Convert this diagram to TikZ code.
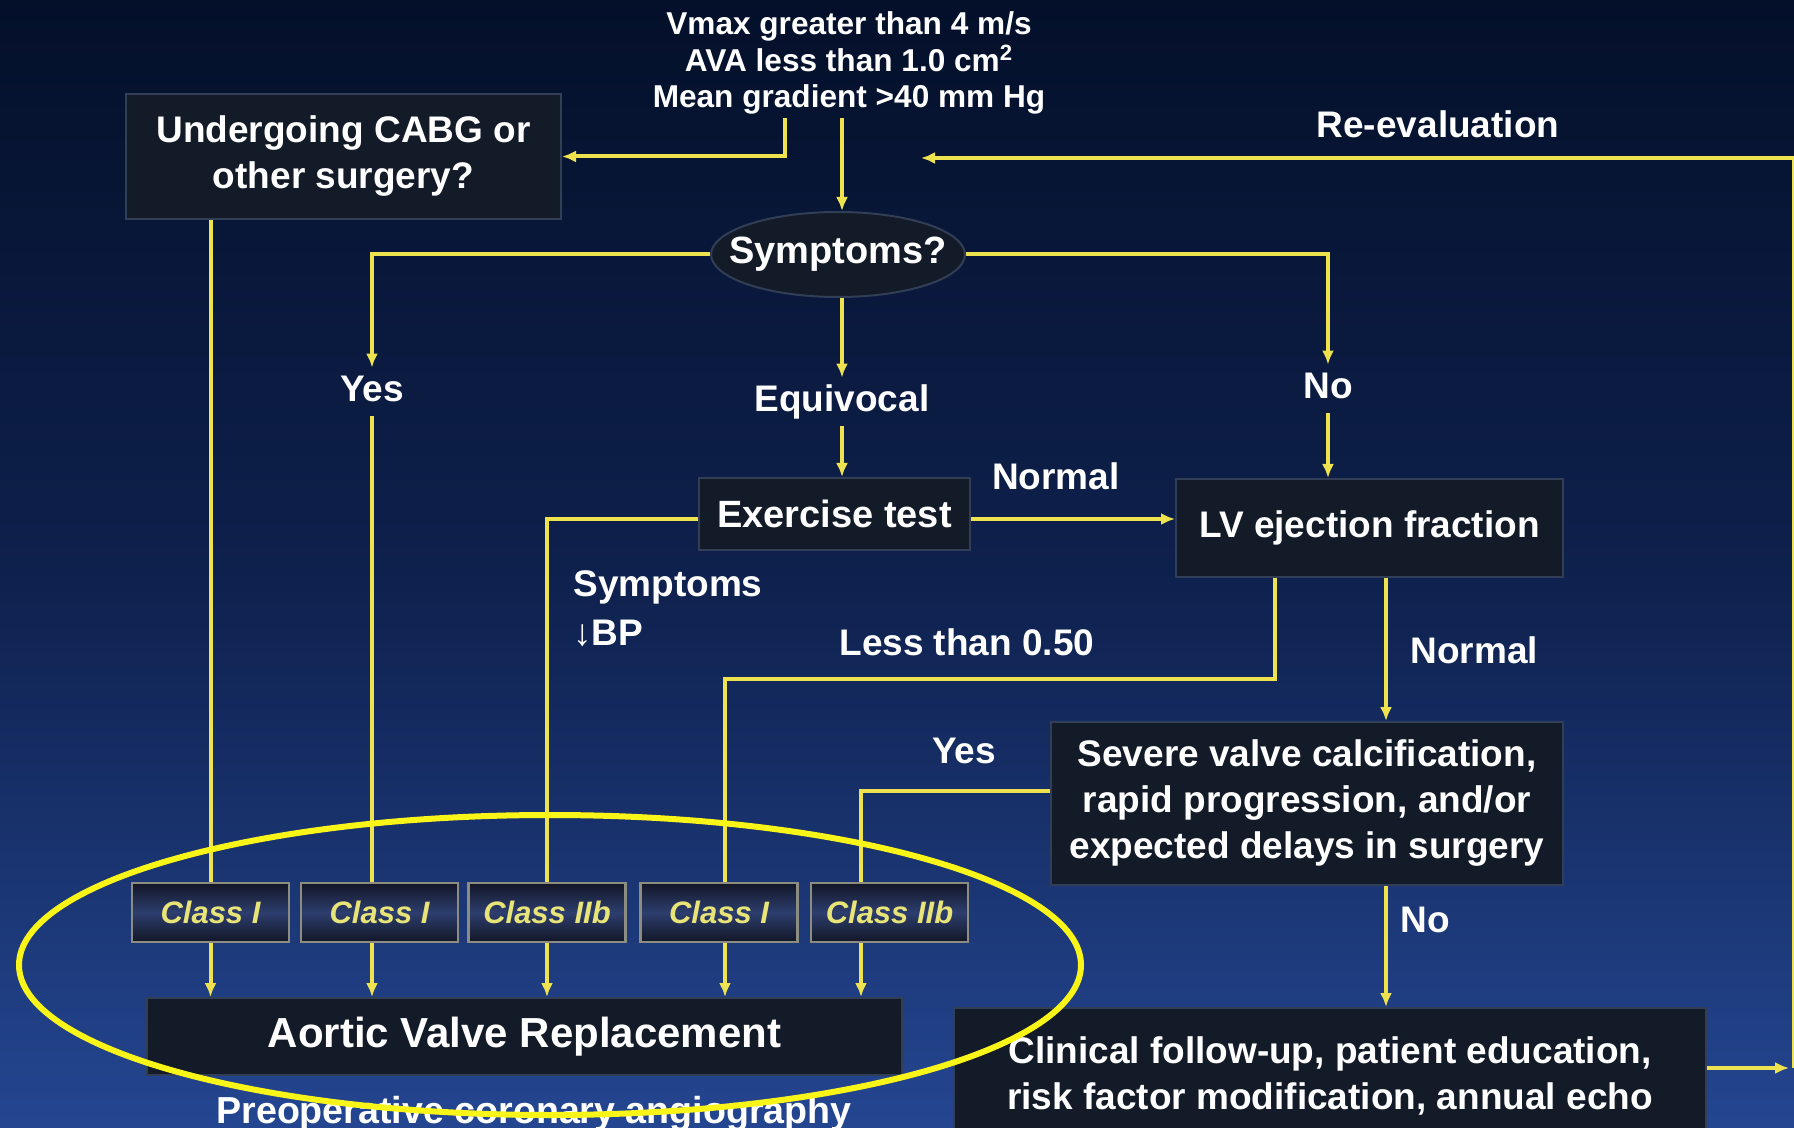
\documentclass[tikz,border=0pt]{standalone}
\usepackage{fontspec}
\setmainfont{Liberation Sans}
\usetikzlibrary{arrows.meta,positioning,shapes.geometric,calc}
\pgfdeclarelayer{backdrop}
\pgfdeclarelayer{background}
\pgfsetlayers{backdrop,background,main}
\definecolor{bgtop}{RGB}{4,16,42}
\definecolor{bgmid}{RGB}{14,32,76}
\definecolor{bgbot}{RGB}{36,70,145}
\definecolor{boxfill}{RGB}{20,27,40}
\definecolor{boxline}{RGB}{50,62,85}
\definecolor{flow}{RGB}{238,226,78}
\definecolor{clsdark}{RGB}{18,22,38}
\definecolor{clsmid}{RGB}{45,62,110}
\definecolor{classtxt}{RGB}{232,228,120}
\definecolor{classline}{RGB}{140,140,128}
\definecolor{ringcol}{RGB}{250,245,25}

\begin{document}
\begin{tikzpicture}[x=0.5pt,y=-0.5pt,
    darkbox/.style={draw=boxline,line width=1pt,fill=boxfill,text=white,align=center,
        inner sep=0pt,font=\bfseries\fontsize{18.5}{23}\selectfont},
    classbox/.style={draw=classline,line width=1.2pt,top color=clsdark,bottom color=clsdark,
        middle color=clsmid,text=classtxt,inner sep=0pt,minimum width=78.5pt,
        minimum height=29.5pt,font=\bfseries\itshape\fontsize{15.5}{18}\selectfont},
    lbl/.style={text=white,inner sep=4pt,text height=13pt,text depth=3pt,
        font=\bfseries\fontsize{18.5}{22}\selectfont},
    flowline/.style={draw=flow,line width=2pt},
    arr/.style={flowline,-{Latex[length=7pt,width=6pt]}}]
    \useasboundingbox (0,0) rectangle (1794,1128);
    \begin{pgfonlayer}{backdrop}
        \shade[top color=bgtop,bottom color=bgbot,middle color=bgmid] (0,0) rectangle (1794,1128);
    \end{pgfonlayer}
    % boxes and labels
    \node[text=white,align=center,inner sep=0pt,font=\bfseries\fontsize{15.8}{18.3}\selectfont]
        (crit) at (849,63) {Vmax greater than 4 m/s\\AVA less than 1.0 cm\textsuperscript{2}\\Mean gradient >40 mm Hg};
    \node[darkbox,minimum width=217.5pt,minimum height=62.5pt] (cabg) at (343.5,156.5) {Undergoing CABG or\\other surgery?};
    \node[lbl] (reval) at (1438,128) {Re-evaluation};
    \node[darkbox,ellipse,inner xsep=-9.5pt,inner ysep=0pt,minimum width=126.5pt,minimum height=42.5pt,
        font=\bfseries\fontsize{19}{22}\selectfont] (sym) at (838,254.5) {Symptoms?};
    \node[lbl] (yes1) at (372,392) {Yes};
    \node[lbl] (equiv) at (842,402) {Equivocal};
    \node[lbl] (no1) at (1328,389) {No};
    \node[darkbox,minimum width=135.5pt,minimum height=36pt,font=\bfseries\fontsize{19}{22}\selectfont]
        (exer) at (834.5,514) {Exercise test};
    \node[lbl] (normal1) at (1056,480) {Normal};
    \node[darkbox,minimum width=193.5pt,minimum height=49pt] (lvef) at (1369.5,528) {LV ejection fraction};
    \node[text=white,anchor=north west,align=left,inner sep=0pt,font=\bfseries\fontsize{18.5}{24.5}\selectfont]
        (symbp) at (573,570) {Symptoms\\↓BP};
    \node[lbl,anchor=west] (less) at (831,645) {Less than 0.50};
    \node[lbl,anchor=west] (normal2) at (1402,653) {Normal};
    \node[darkbox,minimum width=256pt,minimum height=81.5pt] (sev) at (1307,803.5)
        {Severe valve calcification,\\rapid progression, and/or\\expected delays in surgery};
    \node[lbl] (yes2) at (964,753) {Yes};
    \node[lbl,anchor=west] (no2) at (1392,922) {No};
    \foreach \cname/\cx/\ctext in {cls1/210.5/Class I,cls2/379.5/Class I,cls3/547/Class IIb,cls4/719/Class I,cls5/889.5/Class IIb}
        \node[classbox] (\cname) at (\cx,912.5) {\ctext};
    \node[darkbox,minimum width=377.5pt,minimum height=38.5pt,font=\bfseries\fontsize{21}{24}\selectfont]
        (avr) at (524.5,1036.5) {Aortic Valve Replacement};
    \node[darkbox,minimum width=376pt,minimum height=68pt] (clin) at (1330,1076)
        {Clinical follow-up, patient education,\\risk factor modification, annual echo};
    \node[text=white,anchor=base,inner sep=0pt,font=\bfseries\fontsize{18.8}{22}\selectfont]
        (preop) at (534,1123) {Preoperative coronary angiography};
    % connector ends
    \coordinate (critL) at (785,118);
    \coordinate (critC) at (842,118);
    \coordinate (loopTip) at (1789,1068);
    \coordinate (loopBR) at (1794,1068);
    \coordinate (loopTR) at (1794,158);
    \coordinate (revalEnd) at (921,158);
    \coordinate (lessX) at (1274.5,0);
    \coordinate (lessDrop) at (725,0);
    \coordinate (yesX) at (861,0);
    \begin{pgfonlayer}{background}
        \draw[arr] (critL) |- (cabg.east);
        \draw[arr] (critC) -- (critC |- sym.north);
        \draw[arr] (clin.east |- loopTip) -- (loopTip);
        \draw[arr] (loopBR) -- (loopTR) -- (revalEnd);
        \draw[arr] (sym.west) -| (yes1.north);
        \draw[arr] (equiv.north |- sym.south) -- (equiv.north);
        \draw[arr] (equiv.south) -- (equiv.south |- exer.north);
        \draw[arr] (sym.east) -| (no1.north);
        \draw[arr] (no1.south) -- (no1.south |- lvef.north);
        \draw[arr] ([yshift=-2.5pt]exer.east) -- ([yshift=-2.5pt]exer.east -| lvef.west);
        \draw[arr] ([yshift=-2.5pt]exer.west) -| (cls3.north |- avr.north);
        \draw[arr] (lessX |- lvef.south) -- ++(0,101) -| (lessDrop |- avr.north);
        \draw[arr] ([xshift=8.25pt]lvef.south) -- ([xshift=8.25pt]lvef.south |- sev.north);
        \draw[arr] ([xshift=39.5pt]sev.south) -- ([xshift=39.5pt]sev.south |- clin.north);
        \draw[arr] ([yshift=6.25pt]sev.west) -| (yesX |- avr.north);
        \draw[arr] (cls1.north |- cabg.south) -- (cls1.north |- avr.north);
        \draw[arr] (yes1.south) -- (yes1.south |- avr.north);
    \end{pgfonlayer}
    % highlight ring
    \draw[ringcol,line width=3pt] (550,965) ellipse [x radius=531,y radius=150];
\end{tikzpicture}
\end{document}
